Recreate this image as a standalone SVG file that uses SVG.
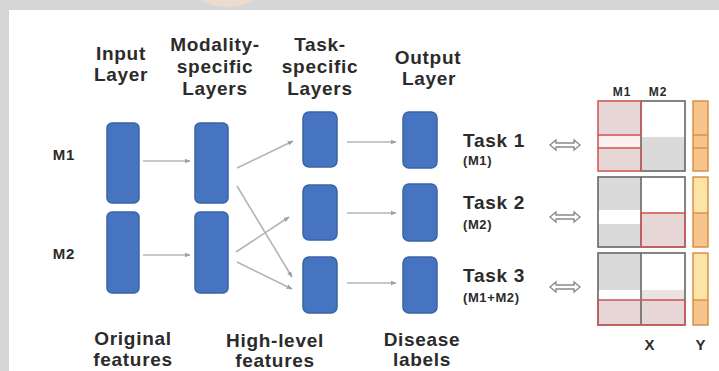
<svg xmlns="http://www.w3.org/2000/svg" width="719" height="371" viewBox="0 0 719 371">
<defs>
<style>
.t{font-family:"Liberation Sans",Arial,sans-serif;font-weight:bold;fill:#2b2b2b;text-anchor:middle}
.h{font-size:19px;letter-spacing:0.7px}
.s{font-size:15px;letter-spacing:0.8px}
.m{font-size:12px;letter-spacing:0.8px}
.k{font-size:13px;letter-spacing:0.6px;text-anchor:start}
.n{fill:#4674c0;stroke:#3a63a8;stroke-width:1.5}
.c{stroke:#b4b4b4;stroke-width:1.6;fill:none;marker-end:url(#ah)}
.da{fill:#fff;stroke:#8a8a8a;stroke-width:1.3}
.g{fill:#dadada}
.w{fill:#ffffff}
.p{fill:#e7d6d6}
.rb{fill:none;stroke:#cf5a5a;stroke-width:1.6}
.gb{fill:none;stroke:#666;stroke-width:1.6}
.yo{fill:#f7c48c}
.yy{fill:#fbe4a6}
.yb{fill:none;stroke:#d58b3e;stroke-width:1.4}
</style>
<marker id="ah" viewBox="0 0 10 10" refX="9" refY="5" markerWidth="6" markerHeight="6" markerUnits="userSpaceOnUse" orient="auto">
<path d="M0,1 L10,5 L0,9 Z" fill="#a0a0a0"/>
</marker>
</defs>
<rect x="0" y="0" width="719" height="371" fill="#d6d6d6"/>
<rect x="9" y="10" width="710" height="361" fill="#ffffff"/>
<path d="M200,0 Q225,14 255,0 Z" fill="#f3dccb" opacity="0.8"/>

<g id="labels">
<text class="t h" x="121" y="60">Input</text>
<text class="t h" x="121" y="81">Layer</text>
<text class="t h" x="215" y="51">Modality-</text>
<text class="t h" x="215" y="73">specific</text>
<text class="t h" x="215" y="95">Layers</text>
<text class="t h" x="320" y="51">Task-</text>
<text class="t h" x="320" y="73">specific</text>
<text class="t h" x="320" y="95">Layers</text>
<text class="t h" x="428" y="64">Output</text>
<text class="t h" x="429" y="85">Layer</text>
<text class="t s" x="64" y="160">M1</text>
<text class="t s" x="64" y="259">M2</text>
<text class="t h" x="133" y="345">Original</text>
<text class="t h" x="133" y="366">features</text>
<text class="t h" x="275" y="347">High-level</text>
<text class="t h" x="275" y="367">features</text>
<text class="t h" x="422" y="346">Disease</text>
<text class="t h" x="422" y="366">labels</text>
</g>

<g id="connectors">
<line class="c" x1="143" y1="161" x2="190" y2="161"/>
<line class="c" x1="143" y1="255" x2="190" y2="255"/>
<line class="c" x1="237" y1="168" x2="293" y2="141"/>
<line class="c" x1="237" y1="186" x2="292" y2="277"/>
<line class="c" x1="236" y1="252" x2="289" y2="217"/>
<line class="c" x1="237" y1="262" x2="292" y2="289"/>
<line class="c" x1="347" y1="142" x2="396" y2="142"/>
<line class="c" x1="347" y1="213" x2="396" y2="213"/>
<line class="c" x1="347" y1="283" x2="396" y2="283"/>
</g>

<g id="input-m1"><rect class="n" x="107" y="123" width="32" height="80" rx="5"/></g>
<g id="input-m2"><rect class="n" x="107" y="212" width="32" height="81" rx="5"/></g>
<g id="modality-m1"><rect class="n" x="195" y="123" width="33" height="80" rx="5"/></g>
<g id="modality-m2"><rect class="n" x="195" y="212" width="33" height="81" rx="5"/></g>
<g id="task-layer-1"><rect class="n" x="303" y="112" width="34" height="55" rx="6"/></g>
<g id="task-layer-2"><rect class="n" x="303" y="185" width="34" height="55" rx="6"/></g>
<g id="task-layer-3"><rect class="n" x="303" y="257" width="34" height="56" rx="6"/></g>
<g id="output-1"><rect class="n" x="403" y="112" width="34" height="56" rx="6"/></g>
<g id="output-2"><rect class="n" x="403" y="184" width="34" height="57" rx="6"/></g>
<g id="output-3"><rect class="n" x="403" y="257" width="34" height="56" rx="6"/></g>

<g id="task-1">
<text class="t h" x="494" y="147">Task 1</text>
<text class="t k" x="463" y="165">(M1)</text>
<path class="da" d="M550,145 L556,140 L556,143 L574,143 L574,140 L580,145 L574,150 L574,147 L556,147 L556,150 Z"/>
</g>
<g id="task-2">
<text class="t h" x="494" y="209">Task 2</text>
<text class="t k" x="463" y="229">(M2)</text>
<path class="da" d="M550,217 L556,212 L556,215 L574,215 L574,212 L580,217 L574,222 L574,219 L556,219 L556,222 Z"/>
</g>
<g id="task-3">
<text class="t h" x="494" y="282">Task 3</text>
<text class="t k" x="463" y="302">(M1+M2)</text>
<path class="da" d="M550,287 L556,282 L556,285 L574,285 L574,282 L580,287 L574,292 L574,289 L556,289 L556,292 Z"/>
</g>

<g id="matrix">
<text class="t m" x="622" y="96">M1</text>
<text class="t m" x="658" y="96">M2</text>
<!-- block 1 -->
<rect class="p" x="598" y="101" width="43" height="34"/>
<rect x="598" y="135" width="43" height="13" fill="#fcf1f1"/>
<rect class="p" x="598" y="148" width="43" height="23"/>
<rect class="w" x="641" y="101" width="44" height="36"/>
<rect class="g" x="641" y="137" width="44" height="34"/>
<rect class="gb" x="641" y="101" width="44" height="70"/>
<rect class="rb" x="598" y="101" width="43" height="34"/>
<rect class="rb" x="598" y="148" width="43" height="23"/>
<line x1="598" y1="135" x2="598" y2="148" stroke="#cf5a5a" stroke-width="1.6"/>
<!-- block 2 -->
<rect class="g" x="598" y="177" width="43" height="33"/>
<rect class="w" x="598" y="210" width="43" height="14"/>
<rect class="g" x="598" y="224" width="43" height="23"/>
<rect class="w" x="641" y="177" width="44" height="36"/>
<rect class="p" x="641" y="213" width="44" height="34"/>
<rect class="gb" x="598" y="177" width="87" height="70"/>
<line x1="641" y1="177" x2="641" y2="247" stroke="#666" stroke-width="1.6"/>
<rect class="rb" x="641" y="213" width="44" height="34"/>
<!-- block 3 -->
<rect class="g" x="598" y="253" width="43" height="37"/>
<rect class="w" x="598" y="290" width="43" height="10"/>
<rect class="w" x="641" y="253" width="44" height="37"/>
<rect x="641" y="290" width="44" height="10" fill="#ebe2e2"/>
<rect class="p" x="598" y="300" width="87" height="25"/>
<rect class="gb" x="598" y="253" width="87" height="72"/>
<line x1="641" y1="253" x2="641" y2="325" stroke="#666" stroke-width="1.6"/>
<rect class="rb" x="598" y="300" width="87" height="25"/>
<!-- Y column -->
<rect class="yo" x="693" y="101" width="15" height="70"/>
<rect class="yb" x="693" y="101" width="15" height="70"/>
<line x1="693" y1="135" x2="708" y2="135" stroke="#d58b3e" stroke-width="1.3"/>
<line x1="693" y1="148" x2="708" y2="148" stroke="#d58b3e" stroke-width="1.3"/>
<rect class="yy" x="693" y="177" width="15" height="36"/>
<rect class="yo" x="693" y="213" width="15" height="34"/>
<rect class="yb" x="693" y="177" width="15" height="70"/>
<line x1="693" y1="213" x2="708" y2="213" stroke="#d58b3e" stroke-width="1.3"/>
<rect class="yy" x="693" y="253" width="15" height="47"/>
<rect class="yo" x="693" y="300" width="15" height="25"/>
<rect class="yb" x="693" y="253" width="15" height="72"/>
<line x1="693" y1="300" x2="708" y2="300" stroke="#d58b3e" stroke-width="1.3"/>
<text class="t s" x="650" y="350">X</text>
<text class="t s" x="701" y="350">Y</text>
</g>
</svg>
